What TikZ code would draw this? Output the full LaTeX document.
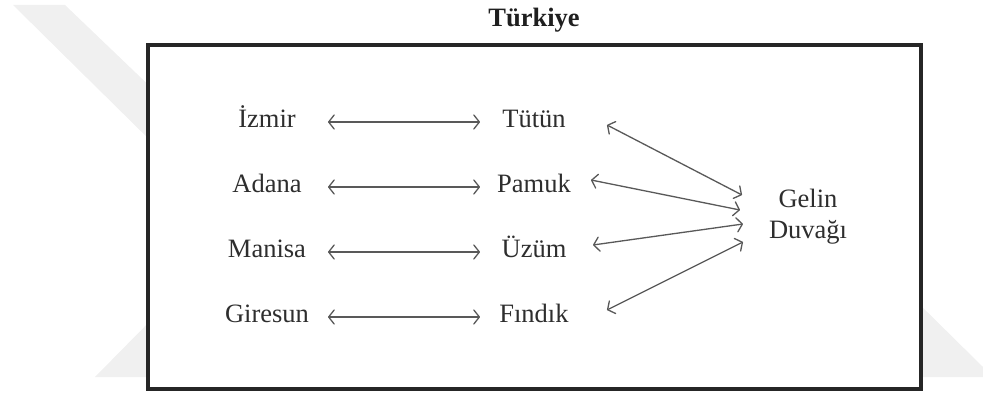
\documentclass[tikz,border=0pt]{standalone}
\usepackage{fontspec}
\setmainfont{Liberation Serif}
\usetikzlibrary{arrows.meta}

\begin{document}
\begin{tikzpicture}[x=1pt, y=1pt,
  word/.style={font=\fontsize{26.5}{31}\selectfont, text=black!82, inner sep=0pt, text height=18pt, text depth=6pt},
  link/.style={draw=black!65, line width=1.3pt, {Straight Barb[length=5.5pt,width=14pt,round]}-{Straight Barb[length=5.5pt,width=14pt,round]}}]
\useasboundingbox (0,0) rectangle (983,394);
% faint marks behind the frame
\fill [black!6] (13,389) -- (65,389) -- (160,298) -- (160,244) -- cycle;
\fill [black!6] (95,17) -- (160,83) -- (160,17) -- cycle;
\fill [black!6] (910,99) -- (983,27) -- (983,17) -- (910,17) -- cycle;
\draw [draw=black!85, line width=3.2pt, fill=white] (148,5) rectangle (921,349);
\node [font=\fontsize{26.5}{31}\selectfont\bfseries, text=black!88, anchor=base] (turkiye) at (534,367) {Türkiye};
\node [word] (izmir) at (267,272) {İzmir};
\node [word] (adana) at (267,207) {Adana};
\node [word] (manisa) at (267,142) {Manisa};
\node [word] (giresun) at (267,77) {Giresun};
\node [word] (tutun) at (534,272) {Tütün};
\node [word] (pamuk) at (534,207) {Pamuk};
\node [word] (uzum) at (534,142) {Üzüm};
\node [word] (findik) at (534,77) {Fındık};
\node [font=\fontsize{26.5}{31}\selectfont, text=black!82, inner sep=0pt, align=center] (gelin) at (808,177.5) {Gelin\\Duvağı};
\coordinate (l) at (328,0);
\coordinate (r) at (480,0);
\draw [link] (izmir -| l) -- (izmir -| r);
\draw [link] (adana -| l) -- (adana -| r);
\draw [link] (manisa -| l) -- (manisa -| r);
\draw [link] (giresun -| l) -- (giresun -| r);
\draw [link] ([shift={(73,-3)}]tutun.center) -- ([shift={(-66,21.5)}]gelin.center);
\draw [link] ([shift={(57,7)}]pamuk.center) -- ([shift={(-68,6.5)}]gelin.center);
\draw [link] ([shift={(59,7)}]uzum.center) -- ([shift={(-65,-7.5)}]gelin.center);
\draw [link] ([shift={(73,7)}]findik.center) -- ([shift={(-65,-25.5)}]gelin.center);
\end{tikzpicture}
\end{document}
